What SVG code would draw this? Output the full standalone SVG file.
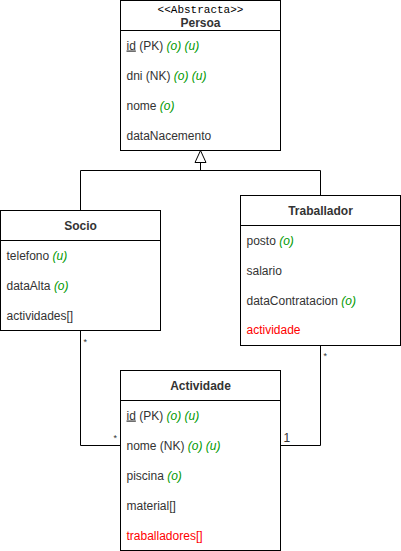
<svg xmlns="http://www.w3.org/2000/svg" width="401" height="551" viewBox="0 0 401 551">
<style>
.box{fill:#fff;stroke:#000;stroke-width:1}
.sep{stroke:#000;stroke-width:1}
.t{font-family:"Liberation Sans",Arial,sans-serif;font-size:12px;fill:#333}
.b{font-family:"Liberation Sans",Arial,sans-serif;font-size:12px;font-weight:bold;fill:#333;text-anchor:middle}
.m{font-family:"Liberation Mono","Courier New",monospace;font-size:11px;fill:#000;text-anchor:middle}
.g{fill:#009900;font-style:italic}
.r{font-family:"Liberation Sans",Arial,sans-serif;font-size:12px;fill:#ff0000}
.u{text-decoration:underline}
.c{fill:none;stroke:#000;stroke-width:1}
.s{font-family:"Liberation Sans",Arial,sans-serif;font-size:9px;fill:#333}
</style>
<rect width="401" height="551" fill="#fff"/>
<g transform="translate(0.5,0.5)">
<g id="connectors">
<polyline class="c" points="80,210 80,170 320,170 320,195"/>
<line class="c" x1="200" y1="170" x2="200" y2="162"/>
<polygon points="200,150 194.5,162 205.5,162" fill="#fff" stroke="#000"/>
<polyline class="c" points="80,330 80,445 120,445"/>
<polyline class="c" points="320,345 320,445 280,445"/>
<text class="s" x="83" y="344">*</text>
<text class="s" x="113" y="440">*</text>
<text class="s" x="323" y="358">*</text>
<text class="t" x="283" y="441">1</text>
</g>
<g id="persoa">
<rect class="box" x="120" y="0" width="160" height="150"/>
<line class="sep" x1="120" y1="30" x2="280" y2="30"/>
<text class="m" x="200" y="12">&lt;&lt;Abstracta&gt;&gt;</text>
<text class="b" x="200" y="26">Persoa</text>
<text class="t" x="126" y="49"><tspan class="u">id</tspan> (PK) <tspan class="g">(o) (u)</tspan></text>
<text class="t" x="126" y="79">dni (NK) <tspan class="g">(o) (u)</tspan></text>
<text class="t" x="126" y="109">nome <tspan class="g">(o)</tspan></text>
<text class="t" x="126" y="139">dataNacemento</text>
</g>
<g id="socio">
<rect class="box" x="0" y="210" width="160" height="120"/>
<line class="sep" x1="0" y1="240" x2="160" y2="240"/>
<text class="b" x="80" y="229">Socio</text>
<text class="t" x="6" y="259">telefono <tspan class="g">(u)</tspan></text>
<text class="t" x="6" y="289">dataAlta <tspan class="g">(o)</tspan></text>
<text class="t" x="6" y="319">actividades[]</text>
</g>
<g id="traballador">
<rect class="box" x="240" y="195" width="160" height="150"/>
<line class="sep" x1="240" y1="225" x2="400" y2="225"/>
<text class="b" x="320" y="214">Traballador</text>
<text class="t" x="246" y="244">posto <tspan class="g">(o)</tspan></text>
<text class="t" x="246" y="274">salario</text>
<text class="t" x="246" y="304">dataContratacion <tspan class="g">(o)</tspan></text>
<text class="r" x="246" y="333">actividade</text>
</g>
<g id="actividade">
<rect class="box" x="120" y="370" width="160" height="180"/>
<line class="sep" x1="120" y1="400" x2="280" y2="400"/>
<text class="b" x="200" y="389">Actividade</text>
<text class="t" x="126" y="419"><tspan class="u">id</tspan> (PK) <tspan class="g">(o) (u)</tspan></text>
<text class="t" x="126" y="449">nome (NK) <tspan class="g">(o) (u)</tspan></text>
<text class="t" x="126" y="479">piscina <tspan class="g">(o)</tspan></text>
<text class="t" x="126" y="509">material[]</text>
<text class="r" x="126" y="539">traballadores[]</text>
</g>
</g>
</svg>
